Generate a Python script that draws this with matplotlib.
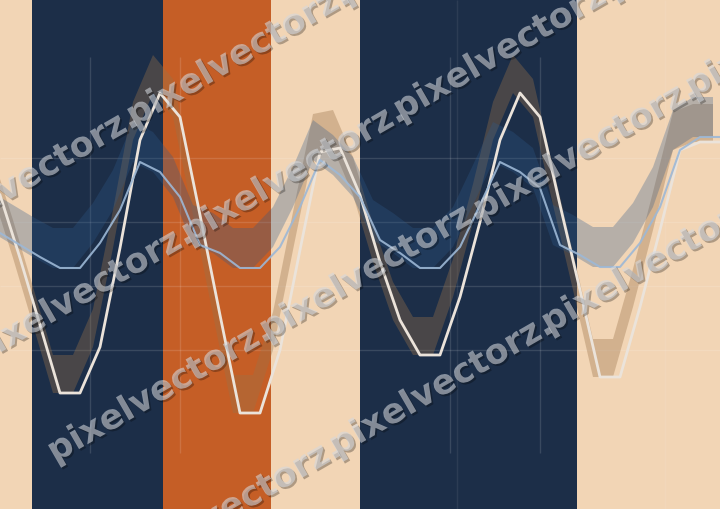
import numpy as np
import matplotlib
matplotlib.use("Agg")
from matplotlib import pyplot as plt
import matplotlib.patheffects as pe

# x positions (steps of the series)
x = np.arange(37)

# white series and the top edge of its grey band
white = [314, 251, 184, 116, 116, 162, 261, 369, 416, 392, 294, 194, 96, 96,
         159, 259, 357, 361, 314, 247, 189, 154, 154, 212, 287, 369, 416, 392,
         304, 219, 132, 132, 202, 279, 359, 367, 367]
white_hi = [352, 289, 222, 154, 154, 200, 299, 407, 454, 430, 332, 232, 134, 134,
            197, 297, 395, 399, 352, 285, 227, 192, 192, 250, 325, 407, 454, 430,
            342, 257, 170, 170, 240, 317, 397, 405, 405]

# blue series and the top edge of its blue band
blue = [276, 264, 252, 241, 241, 266, 299, 347, 337, 312, 264, 256, 241, 241,
        262, 302, 349, 334, 312, 269, 256, 241, 241, 262, 304, 347, 337, 321,
        264, 254, 242, 242, 266, 302, 359, 372, 372]
blue_hi = [316, 304, 292, 281, 281, 306, 339, 387, 377, 352, 304, 296, 281, 281,
           302, 342, 389, 374, 352, 309, 296, 281, 281, 302, 344, 387, 377, 361,
           304, 294, 282, 282, 306, 342, 399, 412, 412]

# background bands: (start, end, colour)
bands = [(1.6, 8.15, "#1c2e48"), (8.15, 13.55, "#c55e26"), (18, 28.85, "#1c2e48")]
peach = "#f2d5b5"

# watermark anchors (x step, height)
marks = [(-3.9, 259), (6.7, 382), (17.3, 505),
         (-1.15, 143), (9.45, 265), (20.05, 388), (30.65, 510),
         (2.75, 46), (13.35, 168), (24.05, 288), (34.65, 411),
         (6.25, -71), (16.85, 52), (27.45, 175), (38.05, 298)]

fig = plt.figure(figsize=(7.2, 5.09), dpi=100)
fig.patch.set_facecolor(peach)
ax = fig.add_axes([0, 0, 1, 1])
ax.set_facecolor(peach)
ax.set_xlim(0, 36)
ax.set_ylim(0, 509)
ax.axis("off")

for a, b, c in bands:
    ax.axvspan(a, b, color=c, lw=0, zorder=0)

# faint grid
ax.hlines([351, 287, 223, 159], 0, 36, color="white", alpha=0.13, lw=1, zorder=1)
ax.vlines([4.5, 9, 22.5, 27], 56, 452, color="white", alpha=0.13, lw=1, zorder=1)
ax.vlines([22.85, 33.25], 0, 509, color="white", alpha=0.07, lw=1, zorder=1)

bx = x - 0.35
ax.fill_between(bx, white, white_hi, color="#9a734a", alpha=0.36, lw=0, zorder=2)
ax.fill_between(bx, blue, blue_hi, color="#2e5a8c", alpha=0.3, lw=0, zorder=3)
ax.plot(x, white, color="#ebe3da", lw=2.0, zorder=4)
ax.plot(x, blue, color="#9db8d6", lw=1.5, alpha=0.9, zorder=5)

for mx, my in marks:
    ax.text(mx, my, "pixelvectorz.", fontsize=25, fontweight="bold",
            family="DejaVu Sans", color="#d4d8de", alpha=0.58,
            rotation=30, rotation_mode="anchor", ha="left", va="baseline",
            zorder=10, clip_on=False,
            path_effects=[pe.SimplePatchShadow(offset=(1.3, -1.3),
                                               shadow_rgbFace="black", alpha=0.28),
                          pe.Normal()])

fig.savefig("out.png", dpi=100, facecolor=peach)
